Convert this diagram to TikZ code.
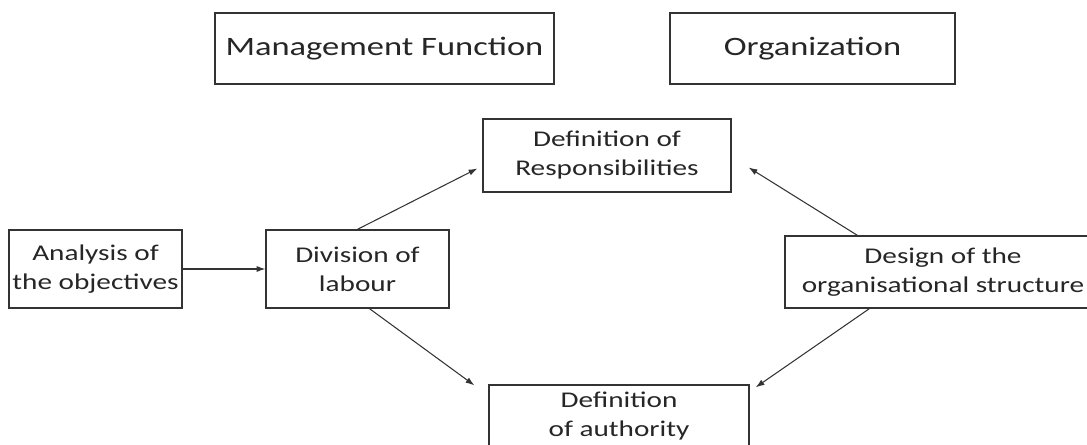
\documentclass[tikz,border=0pt]{standalone}
\usepackage{fontspec}
\setmainfont{Carlito}[FakeStretch=1.3]
\usetikzlibrary{arrows.meta, positioning}

\begin{document}
\begin{tikzpicture}[
        x=0.02cm, y=-0.02cm,
        % Node styles
        box/.style={
            draw=black!80, line width=0.75pt, rectangle, inner sep=0pt,
            align=center, text=black!85,
            font=\fontsize{12.8}{16.5}\selectfont,
        },
        head box/.style={
            box, font=\fontsize{15.1}{19}\selectfont,
        },
        % Connector style
        link/.style={
            draw=black!80, line width=0.6pt, -{Latex[length=5pt, width=3.5pt]},
        },
    ]
    \useasboundingbox (0,0) rectangle (1087,445);
    \clip (0,0) rectangle (1087,445);

    % --- Headings ---
    \node[head box, minimum width=339*0.02cm, minimum height=71*0.02cm] (mgmt) at (384.5,48.5) {Management Function};
    \node[head box, minimum width=285*0.02cm, minimum height=71*0.02cm] (orga) at (812.5,48.5) {Organization};

    % --- Boxes ---
    \node[box, minimum width=173*0.02cm, minimum height=78*0.02cm] (analysis) at (95.5,269) {Analysis of\\the objectives};
    \node[box, minimum width=183*0.02cm, minimum height=78*0.02cm] (division) at (357.5,269) {Division of\\labour};
    \node[box, minimum width=248*0.02cm, minimum height=73*0.02cm] (resp) at (607,155.5) {Definition of\\Responsibilities};
    \node[box, minimum width=260*0.02cm, minimum height=62*0.02cm] (auth) at (619,416) {Definition\\of authority};
    \node[box, minimum width=316*0.02cm, minimum height=72*0.02cm] (design) at (943,272) {Design of the\\organisational structure};

    % --- Connectors ---
    \draw[link] (analysis) -- (division);
    \draw[link] (division.north) -- ([shift={(-5,13)}]resp.west);
    \draw[link] ([xshift=12*0.02cm]division.south) -- ([shift={(-14,1)}]auth.north west);
    \draw[link] ([xshift=73*0.02cm]design.north west) -- ([shift={(17,12)}]resp.east);
    \draw[link] ([xshift=85*0.02cm]design.south west) -- ([shift={(6,3)}]auth.north east);
\end{tikzpicture}
\end{document}
